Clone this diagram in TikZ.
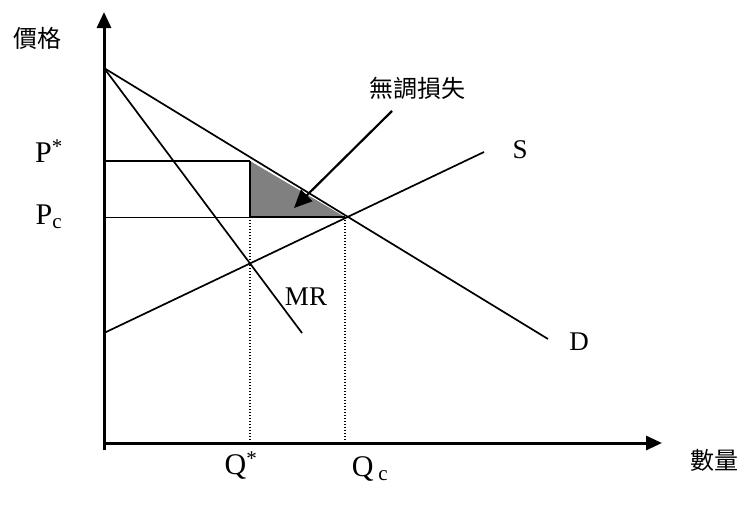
\documentclass[tikz,border=0pt]{standalone}
\usepackage{fontspec}
\setmainfont{Liberation Serif}
\newfontfamily\cjk{Noto Sans CJK TC}
\usetikzlibrary{arrows.meta}
\begin{document}
\begin{tikzpicture}[x=1pt,y=-1pt,
  axis/.style={line width=3pt,-{Triangle[length=16pt,width=14pt]}},
  curve/.style={line width=1.7pt},
  thin line/.style={line width=1pt},
  dotline/.style={line width=1.4pt,dash pattern=on 1.4pt off 1.6pt},
  lbl/.style={font=\fontsize{27}{29}\selectfont,inner sep=0pt},
  biglbl/.style={font=\fontsize{30}{32}\selectfont,inner sep=0pt},
  cjklbl/.style={font=\cjk\fontsize{24}{26}\selectfont,inner sep=0pt}]
\useasboundingbox (0,0) rectangle (743,506);
% key points
\coordinate (Ob) at (104,450);
\coordinate (O) at (103,443);
\coordinate (ytop) at (104,12);
\coordinate (xend) at (662,443);
\coordinate (A) at (104,68);
\coordinate (Dend) at (548,339);
\coordinate (MRend) at (302,333);
\coordinate (S0) at (104,333);
\coordinate (Send) at (484,152);
\coordinate (PsL) at (104,161);
\coordinate (PsR) at (250,161);
\coordinate (PcL) at (104,217);
\coordinate (QsP) at (250,217);
\coordinate (E) at (345,217);
\coordinate (QsB) at (250,443);
\coordinate (QcB) at (345,443);
\coordinate (arrS) at (392,111);
\coordinate (arrE) at (294,208);
% triangle
\fill[black!50] (PsR) -- (QsP) -- (E) -- cycle;
\draw[line width=2.2pt] (PsR) -- (QsP) -- (E);
% axes
\draw[axis] (Ob) -- (ytop);
\draw[axis] (O) -- (xend);
% curves
\draw[curve] (A) -- (Dend);
\draw[curve] (A) -- (MRend);
\draw[curve] (S0) -- (Send);
\draw[line width=2pt] (PsL) -- (PsR);
\draw[thin line] (PcL) -- (E);
\draw[dotline] (QsP) -- (QsB);
\draw[dotline] (E) -- (QcB);
\draw[line width=2.2pt,-{Triangle[length=18pt,width=16pt]}] (arrS) -- (arrE);
% labels
\node[cjklbl] (ylab) at (37,38) {價格};
\node[cjklbl] (xlab) at (714,460) {數量};
\node[cjklbl] (dwl) at (417,88) {無調損失};
\node[biglbl] (Pstar) at (49,151) {P\textsuperscript{*}};
\node[biglbl] (Pc) at (49,217) {P\textsubscript{c}};
\node[lbl] (Slab) at (520,150) {S};
\node[lbl] (MRlab) at (306,297) {MR};
\node[lbl] (Dlab) at (579,342) {D};
\node[biglbl] (Qstar) at (241,466) {Q\textsuperscript{*}};
\node[biglbl] (Qc) at (370,469) {Q\,\textsubscript{c}};
\end{tikzpicture}
\end{document}
